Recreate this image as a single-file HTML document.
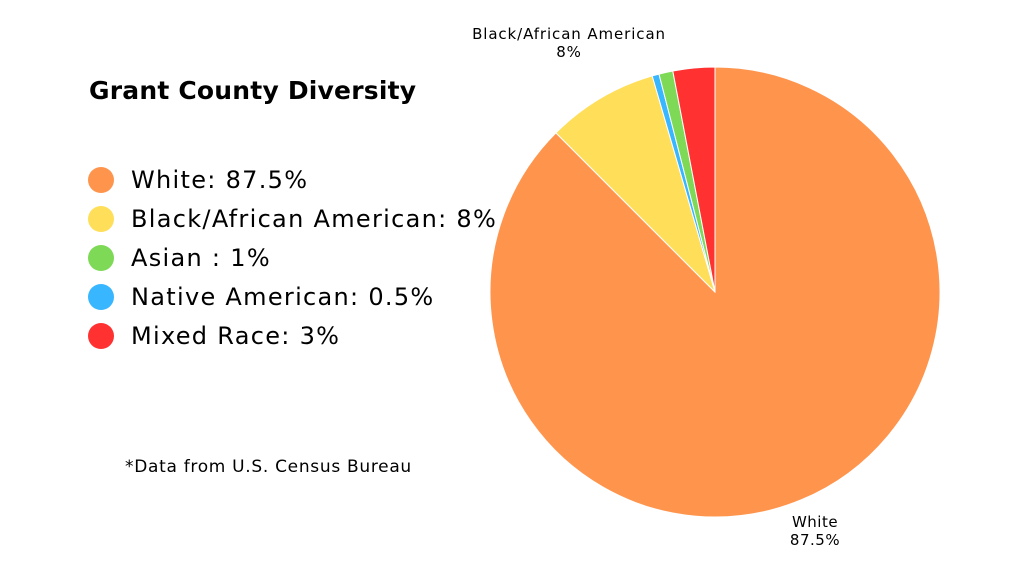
<!DOCTYPE html>
<html><head><meta charset="utf-8"><style>
html,body{margin:0;padding:0;background:#fff;}
body{width:1024px;height:576px;position:relative;overflow:hidden;font-family:"DejaVu Sans","Liberation Sans",sans-serif;color:#000;}
.t{position:absolute;white-space:nowrap;}
.dot{position:absolute;width:26px;height:26px;border-radius:50%;left:88px;}
.lg{position:absolute;left:131px;font-size:24px;letter-spacing:1.3px;line-height:28px;}
</style></head><body>
<svg width="1024" height="576" style="position:absolute;left:0;top:0">
<g stroke="#fff" stroke-width="1">
<path d="M715,292 L715,67 A225,225 0 1 1 555.9,132.9 Z" fill="#FF944D"/>
<path d="M715,292 L555.9,132.9 A225,225 0 0 1 652.2,75.9 Z" fill="#FFDE59"/>
<path d="M715,292 L652.2,75.9 A225,225 0 0 1 659.0,74.1 Z" fill="#38B6FF"/>
<path d="M715,292 L659.0,74.1 A225,225 0 0 1 672.8,71.0 Z" fill="#7ED957"/>
<path d="M715,292 L672.8,71.0 A225,225 0 0 1 715,67 Z" fill="#FF3131"/>
</g>
</svg>
<div class="t" style="left:89px;top:76px;font-size:25px;font-weight:bold;letter-spacing:0.2px;">Grant County Diversity</div>
<div class="dot" style="top:167px;background:#FF944D"></div><div class="lg" style="top:166px">White: 87.5%</div>
<div class="dot" style="top:206px;background:#FFDE59"></div><div class="lg" style="top:205px">Black/African American: 8%</div>
<div class="dot" style="top:245px;background:#7ED957"></div><div class="lg" style="top:244px">Asian : 1%</div>
<div class="dot" style="top:284px;background:#38B6FF"></div><div class="lg" style="top:283px">Native American: 0.5%</div>
<div class="dot" style="top:323px;background:#FF3131"></div><div class="lg" style="top:322px">Mixed Race: 3%</div>
<div class="t" style="left:125px;top:457px;font-size:17px;letter-spacing:0.7px;">*Data from U.S. Census Bureau</div>
<div class="t" style="left:419px;top:25px;font-size:15px;text-align:center;width:300px;line-height:18px;letter-spacing:0.9px;">Black/African American<br>8%</div>
<div class="t" style="left:765px;top:513px;font-size:15px;text-align:center;width:100px;line-height:18px;letter-spacing:0.5px;">White<br>87.5%</div>
</body></html>
